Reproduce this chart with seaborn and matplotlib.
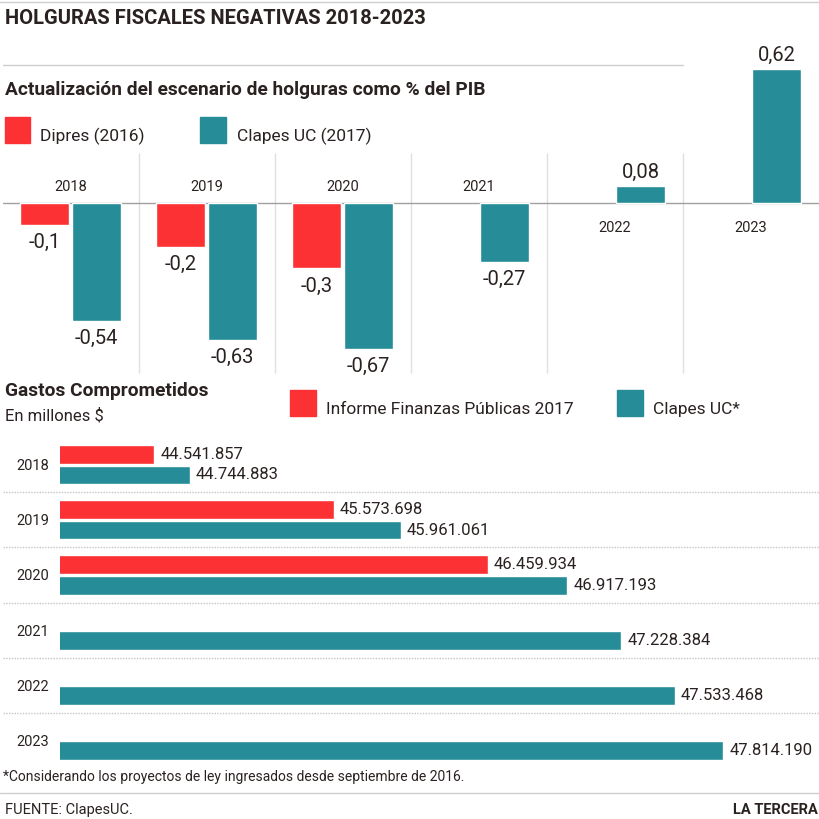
import numpy as np
import pandas as pd
import matplotlib
matplotlib.use("Agg")
import matplotlib.pyplot as plt
from matplotlib.patches import Rectangle
from matplotlib.lines import Line2D
import seaborn as sns

# ============================================================
# DATA
# ============================================================

years = ["2018", "2019", "2020", "2021", "2022", "2023"]

# holguras como % del PIB
holgura_dipres = [-0.1, -0.2, -0.3, np.nan, np.nan, np.nan]
holgura_clapes = [-0.54, -0.63, -0.67, -0.27, 0.08, 0.62]
top_series = ["Dipres (2016)", "Clapes UC (2017)"]

# gastos comprometidos, millones $
gasto_informe = [44541857, 45573698, 46459934, np.nan, np.nan, np.nan]
gasto_clapes = [44744883, 45961061, 46917193, 47228384, 47533468, 47814190]
bottom_series = ["Informe Finanzas Públicas 2017", "Clapes UC*"]

RED = "#fc3134"
TEAL = "#268c98"
INK = "#2a2220"

W, H = 820, 819


def fx(x):
    return x / W


def fy(y):
    return 1 - y / H


df_top = pd.DataFrame({
    "year": years * 2,
    "serie": [top_series[0]] * 6 + [top_series[1]] * 6,
    "valor": holgura_dipres + holgura_clapes,
}).dropna()

df_bot = pd.DataFrame({
    "year": years * 2,
    "serie": [bottom_series[0]] * 6 + [bottom_series[1]] * 6,
    "valor": gasto_informe + gasto_clapes,
}).dropna()

# ============================================================
# FIGURE
# ============================================================

sns.set_theme(style="white")
plt.rcParams["font.family"] = ["Roboto", "DejaVu Sans"]
plt.rcParams["text.color"] = INK

fig = plt.figure(figsize=(W / 100, H / 100), dpi=100)
fig.patch.set_facecolor("white")

# ------------------------------------------------------------
# top panel: holguras
# ------------------------------------------------------------

ax1 = fig.add_axes([fx(2.6), fy(375), fx(816), (375 - 60) / H])
ax1.set_facecolor("none")

sns.barplot(
    data=df_top,
    x="year",
    y="valor",
    hue="serie",
    order=years,
    hue_order=top_series,
    palette=[RED, TEAL],
    width=0.76,
    gap=0.05,
    errorbar=None,
    legend=False,
    saturation=1,
    zorder=3,
    ax=ax1
)

ax1.set_xlim(-0.5, 5.5)
ax1.set_ylim(-0.791, 0.660)
ax1.axhline(0, color="#a0a0a0", lw=1, zorder=2)
ax1.vlines(
    [i + 0.5 for i in range(len(years) - 1)],
    -0.782, 0.232,
    color="#e0e0e0", lw=1, zorder=1
)

for cont in ax1.containers:
    for bar in cont:
        h = bar.get_height()
        if np.isnan(h):
            continue
        txt = f"{h:.2f}".rstrip("0").replace(".", ",")
        cx = bar.get_x() + bar.get_width() / 2
        if h < 0:
            ax1.annotate(txt, (cx, h), xytext=(0, -8),
                         textcoords="offset pixels",
                         ha="center", va="top", fontsize=14.5, color=INK,
                         annotation_clip=False)
        else:
            ax1.annotate(txt, (cx, h), xytext=(0, 4),
                         textcoords="offset pixels",
                         ha="center", va="bottom", fontsize=14.5, color=INK,
                         annotation_clip=False)

# year labels: above zero when all bars negative, below otherwise
for i, yr in enumerate(years):
    has_pos = df_top[(df_top.year == yr) & (df_top.valor > 0)].shape[0] > 0
    off = -25 if has_pos else 16
    ax1.annotate(yr, (i, 0), xytext=(0, off), textcoords="offset pixels",
                 ha="center", va="center", fontsize=10.5, color=INK)

ax1.set_xlabel("")
ax1.set_ylabel("")
ax1.set_xticks([])
ax1.set_yticks([])
sns.despine(ax=ax1, left=True, bottom=True)

# ------------------------------------------------------------
# bottom panel: gastos comprometidos
# ------------------------------------------------------------

ax2 = fig.add_axes([fx(60), fy(768), fx(760), (768 - 437) / H])
ax2.set_facecolor("none")

sns.barplot(
    data=df_bot,
    y="year",
    x="valor",
    hue="serie",
    order=years,
    hue_order=bottom_series,
    orient="h",
    palette=[RED, TEAL],
    width=0.75,
    gap=0.1,
    errorbar=None,
    legend=False,
    saturation=1,
    zorder=3,
    ax=ax2
)

ax2.set_xlim(44_000_000, 48_370_000)
ax2.set_ylim(5.5, -0.5)

ax2.hlines(
    [i + 0.5 for i in range(len(years) - 1)],
    (3 - 60) / 760, 1,
    transform=ax2.get_yaxis_transform(),
    color="#c4c4c4", lw=1, linestyles=(0, (1, 1)),
    clip_on=False, zorder=1
)

for cont in ax2.containers:
    for bar in cont:
        w = bar.get_width()
        if np.isnan(w):
            continue
        cy = bar.get_y() + bar.get_height() / 2
        ax2.annotate(f"{int(w):,}".replace(",", "."), (w, cy),
                     xytext=(6, 0), textcoords="offset pixels",
                     ha="left", va="center", fontsize=12, color=INK,
                     annotation_clip=False)

ax2.set_xlabel("")
ax2.set_ylabel("")
ax2.set_xticks([])
ax2.tick_params(axis="y", length=0, pad=8, labelsize=10.5, labelcolor=INK)
sns.despine(ax=ax2, left=True, bottom=True)

# ------------------------------------------------------------
# titles, legends, rules, footer
# ------------------------------------------------------------

rule = "#cfcfcf"
fig.add_artist(Line2D([0, 1], [fy(2), fy(2)], color=rule, lw=1))
fig.add_artist(Line2D([fx(3), fx(683)], [fy(65), fy(65)], color=rule, lw=1))
fig.add_artist(Line2D([0, 1], [fy(793), fy(793)], color=rule, lw=1))

fig.text(fx(5), fy(18), "HOLGURAS FISCALES NEGATIVAS 2018-2023",
         fontsize=14.5, fontweight="bold", va="center")
fig.text(fx(5), fy(90), "Actualización del escenario de holguras como % del PIB",
         fontsize=13.8, fontweight="bold", va="center")

def legend_item(x0, x1, y0, y1, color, label, tx, size):
    fig.add_artist(Rectangle((fx(x0), fy(y1)), fx(x1 - x0), (y1 - y0) / H,
                             transform=fig.transFigure, color=color))
    fig.text(fx(tx), fy(y1 - 2), label, fontsize=size, va="baseline")

legend_item(5, 30, 117, 143, RED, top_series[0], 40, 12.5)
legend_item(200, 226, 117, 143, TEAL, top_series[1], 237, 12.5)

fig.text(fx(5), fy(391), "Gastos Comprometidos",
         fontsize=13.8, fontweight="bold", va="center")
fig.text(fx(5), fy(416), "En millones $", fontsize=12, va="center")

legend_item(290, 316, 390, 416, RED, bottom_series[0], 326, 12.5)
legend_item(617, 643, 390, 416, TEAL, bottom_series[1], 653, 12.5)

fig.text(fx(3), fy(777),
         "*Considerando los proyectos de ley ingresados desde septiembre de 2016.",
         fontsize=10, va="center")
fig.text(fx(5), fy(810), "FUENTE: ClapesUC.", fontsize=10.5, va="center")
fig.text(fx(818), fy(810), "LA TERCERA", fontsize=10.5, fontweight="bold",
         va="center", ha="right")

fig.savefig("out.png", dpi=100, facecolor="white")
